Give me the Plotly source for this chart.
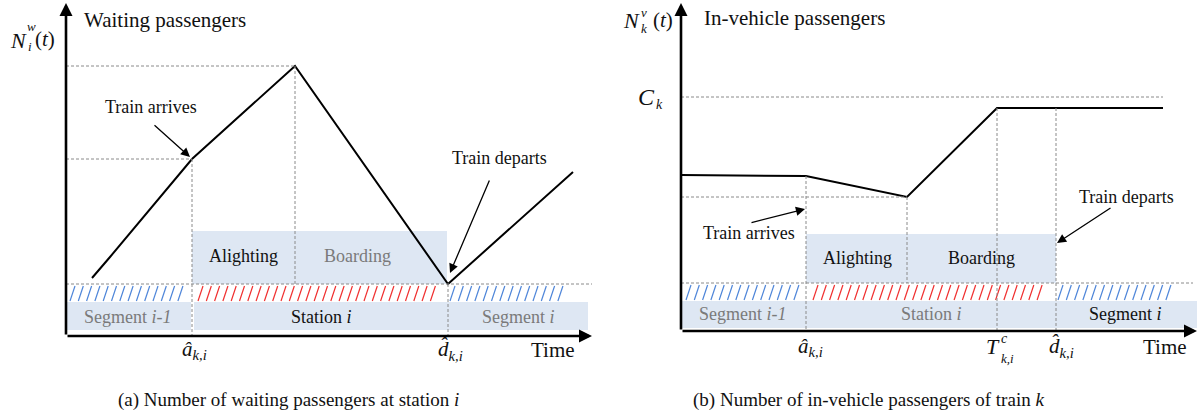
import numpy as np
import plotly.graph_objects as go

W, H = 1203, 417

# ---------------- data (schematic values) ----------------
# panel (a): waiting passengers at station i
wait_t = [26, 44, 126, 229, 382, 507]
wait_n = [58, 79, 177, 270, 52, 164]
a_hat_a, peak_a, d_hat_a = 126, 229, 382
peak_n_a, arr_n_a, band_top_a = 270, 177, 52
# panel (b): in-vehicle passengers of train k
veh_t = [0, 125, 226, 316, 482]
veh_n = [156, 155, 134, 223, 223]
a_hat_b, min_b, tc_b, d_hat_b = 125, 226, 316, 375
cap_b, min_n_b, band_top_b = 234, 134, 48

# bands: (start, end) in time units
hatch_a = [(4, 123, "blue"), (132, 374, "red"), (384, 504, "blue")]
hatch_b = [(5, 122, "blue"), (132, 367, "red"), (377, 496, "blue")]
hatch_y_a = (35, 50)
hatch_y_b = (31, 46)
seg_band_a = [(0, 125), (128, 381), (381, 522)]
seg_band_y_a = (6, 34)
seg_band_b = [(0, 516)]
seg_band_y_b = (3, 30)
box_a = (126, 381, 52, 105)
box_b = (125, 375, 48, 97)

SERIF = "Liberation Serif"
BLUE_FILL = "#dee7f3"
GRAY = "#8a8a8a"
HCOL = {"blue": "#4f86d9", "red": "#f03030"}

fig = go.Figure()

ann = []
shapes = []


def refs(p):
    return ("x", "y") if p == 1 else ("x2", "y2")


def text(p, x, y, s, size=18, color="#111", xanchor="center"):
    xr, yr = refs(p)
    ann.append(dict(x=x, y=y, xref=xr, yref=yr, text=s, showarrow=False,
                    xanchor=xanchor, yanchor="middle",
                    font=dict(family=SERIF, size=size, color=color)))


def arrow(p, x0, y0, x1, y1, width=1.3, size=1.4, head=2):
    xr, yr = refs(p)
    ann.append(dict(x=x1, y=y1, ax=x0, ay=y0, xref=xr, yref=yr, axref=xr, ayref=yr,
                    text="", showarrow=True, arrowhead=head, arrowwidth=width,
                    arrowsize=size, arrowcolor="#000", standoff=0))


def dline(p, x0, y0, x1, y1):
    xr, yr = refs(p)
    shapes.append(dict(type="line", xref=xr, yref=yr, x0=x0, y0=y0, x1=x1, y1=y1,
                       line=dict(color=GRAY, width=1, dash="3px,2px"), layer="above"))


def rect(p, x0, x1, y0, y1):
    xr, yr = refs(p)
    shapes.append(dict(type="rect", xref=xr, yref=yr, x0=x0, x1=x1, y0=y0, y1=y1,
                       fillcolor=BLUE_FILL, line=dict(width=0), layer="below"))


def hatch(p, bands, yb):
    xr, yr = refs(p)
    y0, y1 = yb
    spacing, dx = 8.3, 5.0
    for s, e, c in bands:
        xs, ys = [], []
        for x in np.arange(s, e - dx + 0.01, spacing):
            xs += [x, x + dx, None]
            ys += [y0, y1, None]
        fig.add_trace(go.Scatter(x=xs, y=ys, mode="lines", xaxis=xr, yaxis=yr,
                                 line=dict(color=HCOL[c], width=1.2),
                                 hoverinfo="skip", showlegend=False))


# ---------------- axes arrows first (drawn beneath labels) ----------------
arrow(1, 0, 0, 0, 333, width=2.6, size=1.0, head=2)
arrow(1, 0, 0, 526, 0, width=2.6, size=1.0, head=2)
arrow(2, 0, 0, 0, 328, width=2.6, size=1.0, head=2)
arrow(2, 0, 0, 516, 0, width=2.6, size=1.0, head=2)

# ---------------- panel (a) ----------------
rect(1, *box_a[:2], *box_a[2:])
for s, e in seg_band_a:
    rect(1, s, e, *seg_band_y_a)
hatch(1, hatch_a, hatch_y_a)
dline(1, 0, peak_n_a, peak_a, peak_n_a)
dline(1, 0, arr_n_a, a_hat_a, arr_n_a)
dline(1, a_hat_a, arr_n_a, a_hat_a, 0)
dline(1, peak_a, peak_n_a, peak_a, band_top_a)
dline(1, 0, band_top_a, 526, band_top_a)
dline(1, d_hat_a, band_top_a, d_hat_a, 0)
fig.add_trace(go.Scatter(x=wait_t, y=wait_n, mode="lines", line=dict(color="#000", width=2),
                         hoverinfo="skip", showlegend=False, xaxis="x", yaxis="y"))

text(1, 16, 316, "Waiting passengers", size=21, xanchor="left")
text(1, -48, 296, "<i>N</i>", size=22)
text(1, -35, 310, "<i>w</i>", size=13)
text(1, -36, 290, "<i>i</i>", size=13)
text(1, -21, 297, "(<i>t</i>)", size=21)
text(1, 85, 229, "Train arrives", size=18)
arrow(1, 87, 212, 124, 179)
text(1, 433, 178, "Train departs", size=18)
arrow(1, 424, 157, 384, 63)
text(1, 177, 80, "Alighting", size=18)
text(1, 291, 80, "Boarding", size=18, color="#7a7a7a")
text(1, 62, 19, "Segment <i>i-1</i>", size=18, color="#7a7a7a")
text(1, 255, 19, "Station <i>i</i>", size=18)
text(1, 452, 19, "Segment <i>i</i>", size=18, color="#7a7a7a")
text(1, 128, -14, "<i>â</i><sub><i>k,i</i></sub>", size=21)
text(1, 384, -14, "<i>d\u0302</i><sub><i>k,i</i></sub>", size=21)
text(1, 487, -14, "Time", size=21)
text(1, 222, -64, "(a) Number of waiting passengers at station <i>i</i>", size=19)

# ---------------- panel (b) ----------------
rect(2, *box_b[:2], *box_b[2:])
for s, e in seg_band_b:
    rect(2, s, e, *seg_band_y_b)
hatch(2, hatch_b, hatch_y_b)
dline(2, 0, cap_b, veh_t[-1], cap_b)
dline(2, 0, min_n_b, min_b, min_n_b)
dline(2, a_hat_b, veh_n[1], a_hat_b, 0)
dline(2, min_b, min_n_b, min_b, band_top_b)
dline(2, tc_b, veh_n[3], tc_b, 0)
dline(2, d_hat_b, veh_n[3], d_hat_b, 0)
dline(2, 0, band_top_b, 512, band_top_b)
fig.add_trace(go.Scatter(x=veh_t, y=veh_n, mode="lines", line=dict(color="#000", width=2),
                         hoverinfo="skip", showlegend=False, xaxis="x2", yaxis="y2"))

text(2, 21, 313, "In-vehicle passengers", size=21, xanchor="left")
text(2, -50, 311, "<i>N</i>", size=22)
text(2, -37, 319, "<i>v</i>", size=13)
text(2, -37, 303, "<i>k</i>", size=13)
text(2, -18, 311, "(<i>t</i>)", size=21)
text(2, -35, 234, "<i>C</i>", size=24)
text(2, -22, 227, "<i>k</i>", size=14)
text(2, 68, 98, "Train arrives", size=18)
arrow(2, 69, 108, 124, 122)
text(2, 445, 134, "Train departs", size=18)
arrow(2, 431, 124, 376, 88)
text(2, 176, 73, "Alighting", size=18)
text(2, 300, 73, "Boarding", size=18)
text(2, 62, 17, "Segment <i>i-1</i>", size=18, color="#7a7a7a")
text(2, 250, 17, "Station <i>i</i>", size=18, color="#7a7a7a")
text(2, 444, 17, "Segment <i>i</i>", size=18)
text(2, 129, -16, "<i>â</i><sub><i>k,i</i></sub>", size=21)
text(2, 312, -15, "<i>T</i>", size=22)
text(2, 323, -7, "<i>c</i>", size=14)
text(2, 326, -27, "<i>k,i</i>", size=13)
text(2, 380, -16, "<i>d\u0302</i><sub><i>k,i</i></sub>", size=21)
text(2, 484, -16, "Time", size=21)
text(2, 187, -69, "(b) Number of in-vehicle passengers of train <i>k</i>", size=19)

ax_common = dict(visible=False, showgrid=False, zeroline=False, fixedrange=True)
fig.update_layout(
    width=W, height=H, margin=dict(l=0, r=0, t=0, b=0),
    paper_bgcolor="white", plot_bgcolor="white", showlegend=False,
    font=dict(family=SERIF),
    xaxis=dict(domain=[0, 600 / W], range=[-66, 534], **ax_common),
    yaxis=dict(domain=[0, 1], range=[-81, 336], anchor="x", **ax_common),
    xaxis2=dict(domain=[600 / W, 1], range=[-81, 522], anchor="y2", **ax_common),
    yaxis2=dict(domain=[0, 1], range=[-86, 331], anchor="x2", **ax_common),
    annotations=ann, shapes=shapes,
)

fig.write_html("out.html")
